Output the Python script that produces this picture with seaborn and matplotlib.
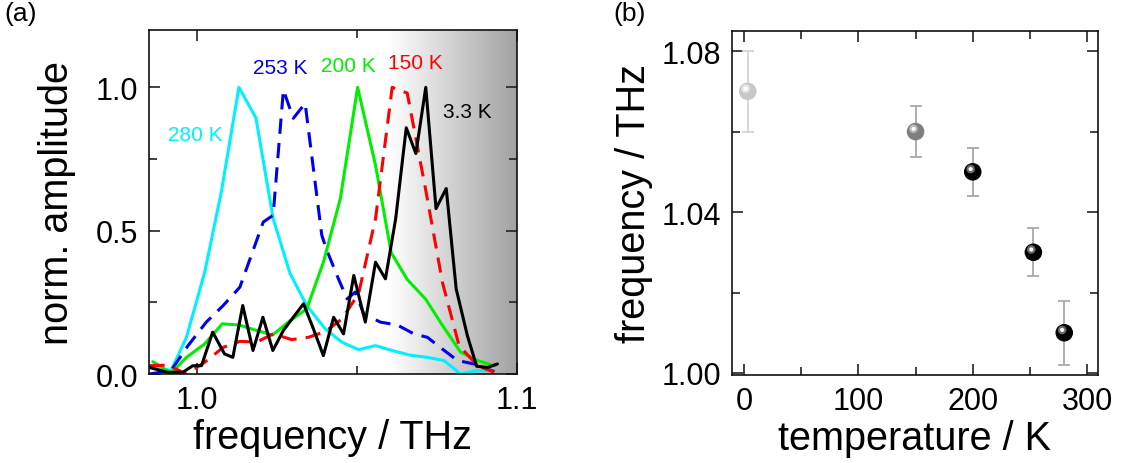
import numpy as np
import matplotlib
matplotlib.use("Agg")
import matplotlib.pyplot as plt
import matplotlib.transforms as mtransforms
from matplotlib.ticker import MultipleLocator
from matplotlib.colors import LinearSegmentedColormap
import seaborn as sns

# (a) normalized spectra
f_280 = [0.9851, 0.9919, 0.9967, 1.0024, 1.0076, 1.0131, 1.0184, 1.0238, 1.0291, 1.0343, 1.0401,
         1.0453, 1.0505, 1.0558, 1.0610, 1.0665, 1.0720, 1.0772, 1.0824, 1.0877, 1.0929]
a_280 = [0.029, 0.012, 0.128, 0.355, 0.635, 1.0, 0.894, 0.542, 0.350, 0.239, 0.157,
         0.111, 0.085, 0.099, 0.082, 0.066, 0.058, 0.047, 0.0, 0.012, 0.012]

f_253 = [0.9851, 0.9919, 0.9972, 1.0029, 1.0082, 1.0134, 1.0181, 1.0207, 1.0238, 1.0270, 1.0301,
         1.0338, 1.0390, 1.0406, 1.0442, 1.0469, 1.0495, 1.0521, 1.0573, 1.0626, 1.0678, 1.0720,
         1.0767, 1.0814, 1.0866, 1.0929]
a_253 = [0.0, 0.012, 0.099, 0.181, 0.239, 0.303, 0.449, 0.530, 0.554, 0.991, 0.892,
         0.944, 0.484, 0.431, 0.332, 0.262, 0.286, 0.210, 0.181, 0.171, 0.140, 0.128,
         0.087, 0.047, 0.035, 0.008]

f_200 = [0.9862, 0.9919, 0.9967, 1.0024, 1.0079, 1.0131, 1.0186, 1.0236, 1.0291, 1.0343, 1.0395,
         1.0448, 1.0502, 1.0558, 1.0607, 1.0657, 1.0714, 1.0767, 1.0824, 1.0877, 1.0929]
a_200 = [0.043, 0.003, 0.058, 0.105, 0.175, 0.171, 0.152, 0.136, 0.186, 0.227, 0.390,
         0.612, 1.0, 0.728, 0.423, 0.330, 0.262, 0.170, 0.076, 0.047, 0.029]

f_150 = [0.9851, 0.9909, 0.9967, 1.0024, 1.0082, 1.0134, 1.0186, 1.0238, 1.0296, 1.0348, 1.0401,
         1.0453, 1.0505, 1.0558, 1.0610, 1.0657, 1.0714, 1.0767, 1.0819, 1.0877, 1.0929]
a_150 = [0.029, 0.031, 0.0, 0.041, 0.093, 0.114, 0.111, 0.140, 0.120, 0.128, 0.148,
         0.192, 0.280, 0.542, 1.0, 0.980, 0.647, 0.320, 0.099, 0.029, 0.006]

f_3 = [0.9851, 0.9908, 0.9956, 0.9987, 1.0014, 1.0049, 1.0086, 1.0112, 1.0143, 1.0175, 1.0206,
       1.0237, 1.0270, 1.0301, 1.0333, 1.0364, 1.0395, 1.0427, 1.0458, 1.0490, 1.0526, 1.0558,
       1.0589, 1.0621, 1.0654, 1.0684, 1.0715, 1.0747, 1.0779, 1.0810, 1.0845, 1.0874, 1.0908,
       1.0939]
a_3 = [0.023, 0.006, 0.006, 0.029, 0.029, 0.146, 0.070, 0.058, 0.239, 0.082, 0.198,
       0.082, 0.152, 0.198, 0.245, 0.157, 0.064, 0.198, 0.140, 0.344, 0.181, 0.390,
       0.332, 0.542, 0.859, 0.769, 1.0, 0.577, 0.647, 0.297, 0.134, 0.027, 0.023,
       0.035]

# (b) peak frequency vs temperature
temps = [3.3, 150, 200, 253, 280]
freqs = [1.070, 1.060, 1.050, 1.030, 1.010]
errs_lo = [0.010, 0.0063, 0.006, 0.006, 0.008]
errs_hi = [0.010, 0.0063, 0.006, 0.006, 0.008]
ball_colors = ["#c8c8c8", "#7f7f7f", "#000000", "#000000", "#000000"]
bar_colors = ["#d4d4d4", "#a8a8a8", "#a8a8a8", "#a8a8a8", "#a8a8a8"]

sns.set_theme(style="ticks")
plt.rcParams["font.family"] = ["Liberation Sans", "DejaVu Sans"]
plt.rcParams["axes.linewidth"] = 1.2
for key in ("text.color", "axes.labelcolor", "xtick.color", "ytick.color", "axes.edgecolor"):
    plt.rcParams[key] = "black"

fig = plt.figure(figsize=(11.28, 4.64), dpi=100)
ax1 = fig.add_axes([0.1321, 0.1918, 0.3262, 0.7414])
ax2 = fig.add_axes([0.6489, 0.1897, 0.3245, 0.7413])

# grey shading on the high-frequency side
shade = LinearSegmentedColormap.from_list("shade", ["#ffffff", "#a2a2a2"])
ax1.imshow(np.linspace(0, 1, 256)[None, :], extent=[1.06, 1.1, 0, 1.2], aspect="auto",
           cmap=shade, zorder=0, interpolation="bicubic")

lw = 2.2
dash = (0, (5.0, 3.0))
sns.lineplot(x=f_280, y=a_280, ax=ax1, color="#00f0ff", lw=lw, sort=False, zorder=3)
sns.lineplot(x=f_253, y=a_253, ax=ax1, color="#0000ee", lw=lw, sort=False, linestyle=dash, zorder=3)
sns.lineplot(x=f_200, y=a_200, ax=ax1, color="#00ee00", lw=lw, sort=False, zorder=3)
sns.lineplot(x=f_150, y=a_150, ax=ax1, color="#ff0000", lw=lw, sort=False, linestyle=dash, zorder=3)
sns.lineplot(x=f_3, y=a_3, ax=ax1, color="#000000", lw=lw, sort=False, zorder=4)

lab_kw = dict(fontsize=15, ha="center", va="center")
ax1.text(0.9994, 0.837, "280 K", color="#00f0ff", **lab_kw)
ax1.text(1.0260, 1.068, "253 K", color="#0000ee", **lab_kw)
ax1.text(1.0472, 1.075, "200 K", color="#00ee00", **lab_kw)
ax1.text(1.0681, 1.086, "150 K", color="#ff0000", **lab_kw)
ax1.text(1.0844, 0.914, "3.3 K", color="#000000", **lab_kw)

ax1.set_xlim(0.985, 1.1)
ax1.set_ylim(0, 1.2)
ax1.set_xticks([1.0, 1.1])
ax1.set_xticklabels(["1.0", "1.1"])
ax1.xaxis.set_minor_locator(MultipleLocator(0.05))
ax1.set_yticks([0.0, 0.5, 1.0])
ax1.set_yticklabels(["0.0", "0.5", "1.0"])
ax1.yaxis.set_minor_locator(MultipleLocator(0.25))
ax1.set_xlabel("frequency / THz", fontsize=28.5, labelpad=2)
ax1.set_ylabel("norm. amplitude", fontsize=28.5, labelpad=14)

# (b) error bars and shaded balls
for t, fq, lo, hi, bc in zip(temps, freqs, errs_lo, errs_hi, bar_colors):
    ax2.errorbar(t, fq, yerr=[[lo], [hi]], fmt="none", ecolor=bc, elinewidth=1.3,
                 capsize=4, capthick=1.3, zorder=2)
sns.scatterplot(x=temps, y=freqs, ax=ax2, c=ball_colors, s=160, edgecolor="none",
                linewidth=0, zorder=3, legend=False)
hl = mtransforms.offset_copy(ax2.transData, fig=fig, x=-1.5, y=2.0, units="points")
ax2.scatter(temps, freqs, s=38, c=["#e6e6e6", "#b8b8b8", "#6a6a6a", "#6a6a6a", "#6a6a6a"],
            edgecolor="none", transform=hl, zorder=4)
ax2.scatter(temps, freqs, s=9, c="#ffffff", edgecolor="none", transform=hl, zorder=5)

ax2.set_xlim(-10.5, 309.5)
ax2.set_ylim(0.9995, 1.085)
ax2.set_xticks([0, 100, 200, 300])
ax2.xaxis.set_minor_locator(MultipleLocator(50))
ax2.set_yticks([1.00, 1.04, 1.08])
ax2.set_yticklabels(["1.00", "1.04", "1.08"])
ax2.yaxis.set_minor_locator(MultipleLocator(0.02))
ax2.set_xlabel("temperature / K", fontsize=28.5, labelpad=2)
ax2.set_ylabel("frequency / THz", fontsize=28.5, labelpad=6)

for ax in (ax1, ax2):
    ax.tick_params(which="both", direction="in", top=True, right=True, labelsize=22,
                   width=1.2, color="#222222")
    ax.tick_params(which="major", length=8, pad=8)
    ax.tick_params(which="minor", length=6)
    for sp in ax.spines.values():
        sp.set_color("#111111")
        sp.set_zorder(5)

fig.text(0.004, 0.995, "(a)", fontsize=19, ha="left", va="top")
fig.text(0.544, 0.995, "(b)", fontsize=19, ha="left", va="top")

fig.savefig("out.png", dpi=100)
